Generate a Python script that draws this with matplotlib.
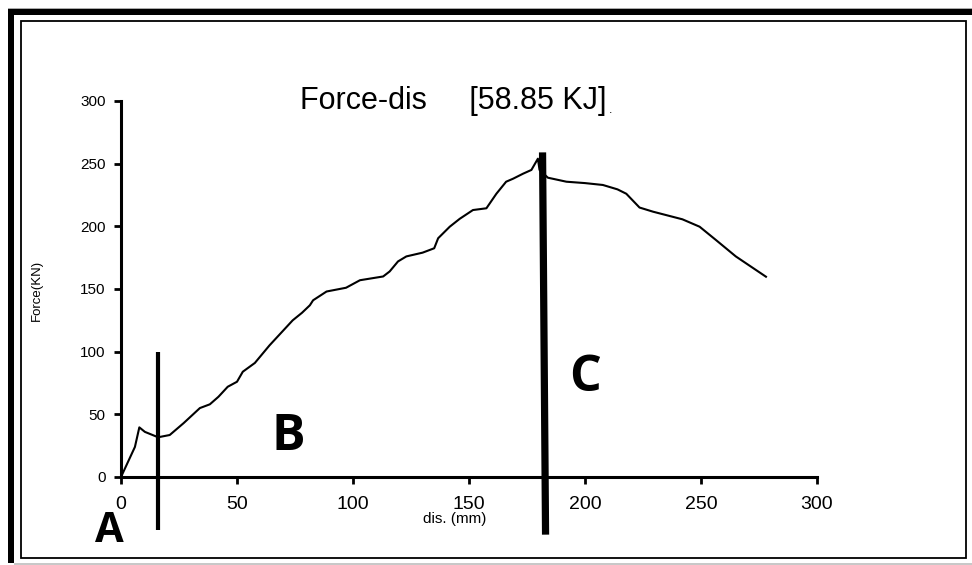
import matplotlib
matplotlib.use("Agg")
import matplotlib.pyplot as plt
from matplotlib.patches import Rectangle

# ---- data ----
dis = [0, 6, 7.9, 10.3, 16, 21, 27, 34, 38.3, 42, 46, 50, 52.5, 57.7, 64, 70, 74,
       78, 81.4, 82.8, 88.6, 97, 103, 113, 115.8, 119.4, 123, 130, 135, 136.7,
       141.7, 146, 151.7, 157.5, 161.8, 166, 169, 173.3, 176.9, 179.7, 180.4,
       184, 192, 200, 207.7, 214, 217.8, 223.5, 229.3, 242, 249.4, 256.5, 265, 278]
force = [0, 24, 39.6, 36, 31.7, 33.5, 43, 55, 58, 64, 72, 76, 84, 91, 105, 117, 125,
         131, 137, 141, 148, 151, 157, 160, 164, 172, 176, 179, 182.5, 190.5,
         199.7, 206, 213, 214.4, 226, 235.6, 238, 242, 245, 254, 245,
         238.8, 235.6, 234.5, 233, 229.5, 226, 215, 211.7, 205.6, 199.7, 189, 176, 159.8]

# vertical region separators: (x_top, x_bottom), (y_top, y_bottom)
sep1_x = [16, 16]
sep1_y = [100, -42]
sep2_x = [181.7, 183]
sep2_y = [259, -46]

region_labels = ["A", "B", "C"]
region_x = [-5, 72, 200]
region_y = [-52, 21.5, 68.6]
region_size = [30, 36, 36]

xticks = [0, 50, 100, 150, 200, 250, 300]
yticks = [0, 50, 100, 150, 200, 250, 300]

W, H = 972, 565
fig = plt.figure(figsize=(W / 100, H / 100), dpi=100)
fig.patch.set_facecolor("white")

# frame overlay in pixel coordinates
ov = fig.add_axes([0, 0, 1, 1])
ov.set_xlim(0, W)
ov.set_ylim(H, 0)
ov.axis("off")
ov.add_patch(Rectangle((8, 8), W - 8, 1, color="#aaaaaa", lw=0))
ov.add_patch(Rectangle((8, 9), W - 8, 6, color="black", lw=0))
ov.add_patch(Rectangle((8, 9), 6, 554, color="black", lw=0))
ov.add_patch(Rectangle((14, 563), W - 14, 1.5, color="#c8c8c8", lw=0))
ov.add_patch(Rectangle((20.5, 20.5), 945, 537.5, fill=False, ec="black", lw=1.3))

ax = fig.add_axes([121 / W, 1 - 477 / H, (817 - 121) / W, (477 - 101) / H])
ax.set_xlim(0, 300)
ax.set_ylim(0, 300)
ax.patch.set_alpha(0)
for s in ["top", "right"]:
    ax.spines[s].set_visible(False)
for s in ["left", "bottom"]:
    ax.spines[s].set_linewidth(2.2)
ax.set_xticks(xticks)
ax.set_yticks(yticks)
ax.tick_params(direction="out", length=5, width=2)
ax.tick_params(axis="y", labelsize=11, pad=6)
ax.tick_params(axis="x", labelsize=14, pad=9)
for lab in ax.get_xticklabels() + ax.get_yticklabels():
    lab.set_family("Liberation Sans")

ax.plot(dis, force, color="black", lw=1.5, clip_on=False, zorder=3)
ax.plot(sep1_x, sep1_y, color="black", lw=3, clip_on=False, zorder=4, solid_capstyle="butt")
ax.plot(sep2_x, sep2_y, color="black", lw=5.2, clip_on=False, zorder=4, solid_capstyle="butt")

title = ax.text(77, 294, "Force-dis     [58.85 KJ]", fontsize=22, family="Liberation Sans",
                ha="left", va="baseline")
ax.annotate(".", xy=(1, 0), xycoords=title, xytext=(2, 0), textcoords="offset points",
            fontsize=9, family="Liberation Sans", ha="left", va="bottom")

for lab, x, y, fs in zip(region_labels, region_x, region_y, region_size):
    ax.text(x, y, lab, fontsize=fs, fontweight="bold", family="Open Sans",
            ha="center", va="baseline", clip_on=False)

ax.set_xlabel("dis. (mm)", fontsize=11, family="Liberation Sans")
ax.xaxis.set_label_coords(0.48, -0.093)
ax.set_ylabel("Force(KN)", fontsize=9.5, family="Liberation Sans")
ax.yaxis.set_label_coords(-0.112, 0.497)

fig.savefig("out.png", dpi=100)
